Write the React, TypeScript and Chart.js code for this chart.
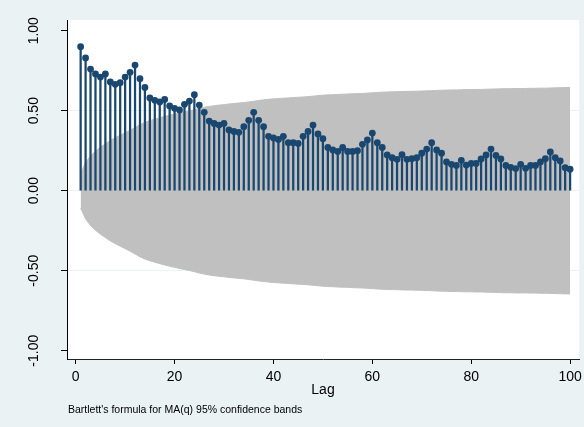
import React, { useEffect, useRef } from "react";
import { Chart, registerables } from "chart.js";

Chart.register(...registerables);

// Autocorrelations by lag
const acf: number[] = [
  0.90, 0.83, 0.76, 0.73, 0.71, 0.73, 0.68, 0.665, 0.675, 0.71,
  0.74, 0.785, 0.70, 0.645, 0.58, 0.565, 0.555, 0.57, 0.53, 0.515,
  0.505, 0.54, 0.56, 0.60, 0.535, 0.49, 0.435, 0.42, 0.41, 0.42,
  0.38, 0.37, 0.365, 0.40, 0.44, 0.49, 0.44, 0.40, 0.34, 0.33,
  0.32, 0.34, 0.30, 0.30, 0.295, 0.34, 0.37, 0.41, 0.355, 0.325,
  0.27, 0.255, 0.245, 0.27, 0.245, 0.245, 0.25, 0.29, 0.317, 0.36,
  0.30, 0.27, 0.223, 0.206, 0.196, 0.225, 0.196, 0.20, 0.206, 0.234,
  0.26, 0.30, 0.255, 0.234, 0.18, 0.165, 0.158, 0.19, 0.16, 0.17,
  0.17, 0.198, 0.223, 0.26, 0.22, 0.198, 0.158, 0.146, 0.138, 0.165,
  0.14, 0.158, 0.158, 0.18, 0.20, 0.242, 0.206, 0.186, 0.144, 0.134,
];

// Half-width of the 95% confidence band by lag
const band: number[] = [
  0.109, 0.176, 0.218, 0.247, 0.272, 0.293, 0.314, 0.331, 0.347, 0.362,
  0.378, 0.395, 0.413, 0.427, 0.438, 0.447, 0.456, 0.464, 0.472, 0.479,
  0.486, 0.492, 0.499, 0.506, 0.515, 0.521, 0.527, 0.531, 0.535, 0.538,
  0.542, 0.545, 0.548, 0.551, 0.555, 0.559, 0.564, 0.568, 0.571, 0.574,
  0.576, 0.578, 0.580, 0.582, 0.584, 0.586, 0.588, 0.591, 0.594, 0.597,
  0.599, 0.600, 0.602, 0.603, 0.604, 0.606, 0.607, 0.608, 0.610, 0.612,
  0.614, 0.616, 0.617, 0.618, 0.619, 0.620, 0.621, 0.621, 0.622, 0.623,
  0.624, 0.625, 0.627, 0.628, 0.629, 0.630, 0.630, 0.631, 0.632, 0.632,
  0.633, 0.633, 0.634, 0.635, 0.636, 0.637, 0.638, 0.638, 0.639, 0.639,
  0.639, 0.640, 0.640, 0.641, 0.641, 0.642, 0.643, 0.644, 0.645, 0.645,
];

const lags: number[] = acf.map((_, i) => i + 1);

const xTicks: number[] = [0, 20, 40, 60, 80, 100];
const yTicks: number[] = [-1, -0.5, 0, 0.5, 1];
const xTitle = "Lag";
const note = "Bartlett's formula for MA(q) 95% confidence bands";

const NAVY = "#1A476F";
const BG = "#EAF2F3";
const FONT = "'Liberation Sans', Arial, sans-serif";

const decorPlugin = {
  id: "decor",
  beforeDraw(chart: any) {
    const { ctx, chartArea: a } = chart;
    ctx.save();
    ctx.fillStyle = BG;
    ctx.fillRect(0, 0, chart.width, chart.height);
    ctx.fillStyle = "#FFFFFF";
    ctx.fillRect(a.left, a.top, a.right - a.left, a.bottom - a.top);
    ctx.restore();
  },
  afterDraw(chart: any) {
    const { ctx, chartArea: a } = chart;
    const xs = chart.scales.x;
    const ys = chart.scales.y;
    ctx.save();
    ctx.fillStyle = "#000";
    // y tick labels (rotated)
    ctx.font = `14px ${FONT}`;
    ctx.textAlign = "center";
    ctx.textBaseline = "alphabetic";
    yTicks.forEach((v) => {
      const py = ys.getPixelForValue(v);
      ctx.save();
      ctx.translate(37.5, py);
      ctx.rotate(-Math.PI / 2);
      ctx.fillText(v.toFixed(2), 0, 0);
      ctx.restore();
    });
    // x tick labels
    xTicks.forEach((v) => {
      ctx.fillText(String(v), xs.getPixelForValue(v), 381);
    });
    // x title
    ctx.font = `14px ${FONT}`;
    ctx.fillText(xTitle, (a.left + a.right) / 2, 394);
    // note
    ctx.font = `10.5px ${FONT}`;
    ctx.textAlign = "left";
    ctx.fillText(note, 68, 413);
    ctx.restore();
  },
};

export default function App() {
  const ref = useRef<HTMLCanvasElement | null>(null);

  useEffect(() => {
    if (!ref.current) return;
    const chart = new Chart(ref.current, {
      type: "scatter",
      data: {
        datasets: [
          {
            type: "scatter",
            data: lags.map((l, i) => ({ x: l, y: acf[i] })),
            backgroundColor: NAVY,
            borderWidth: 0,
            pointRadius: 3.4,
            pointHoverRadius: 3.4,
            order: 0,
          } as any,
          {
            type: "bar",
            data: lags.map((l, i) => ({ x: l, y: acf[i] })),
            backgroundColor: NAVY,
            borderWidth: 0,
            barThickness: 1.6,
            order: 1,
          } as any,
          {
            type: "line",
            data: lags.map((l, i) => ({ x: l, y: band[i] })),
            borderColor: "#C0C0C0",
            borderWidth: 1,
            backgroundColor: "#C0C0C0",
            pointRadius: 0,
            fill: "+1",
            tension: 0,
            order: 2,
          } as any,
          {
            type: "line",
            data: lags.map((l, i) => ({ x: l, y: -band[i] })),
            borderColor: "#C0C0C0",
            borderWidth: 1,
            backgroundColor: "#C0C0C0",
            pointRadius: 0,
            fill: false,
            tension: 0,
            order: 3,
          } as any,
        ],
      },
      options: {
        animation: false,
        responsive: false,
        devicePixelRatio: 1,
        layout: { padding: { left: 0, top: 20, right: 5, bottom: 0 } },
        plugins: {
          legend: { display: false },
          tooltip: { enabled: false },
        },
        events: [],
        scales: {
          x: {
            type: "linear",
            min: -1.76,
            max: 101.8,
            offset: false,
            afterBuildTicks: (s: any) => {
              s.ticks = xTicks.map((v) => ({ value: v }));
            },
            afterFit: (s: any) => {
              s.height = 68;
            },
            ticks: { display: false },
            grid: {
              drawOnChartArea: false,
              drawTicks: true,
              tickLength: 5,
              tickColor: "#000",
              offset: false,
            },
            border: { display: true, color: "#222", width: 1 },
          },
          y: {
            type: "linear",
            min: -1.052,
            max: 1.067,
            afterBuildTicks: (s: any) => {
              s.ticks = yTicks.map((v) => ({ value: v }));
            },
            afterFit: (s: any) => {
              s.width = 67;
            },
            ticks: { display: false },
            grid: {
              drawOnChartArea: true,
              drawTicks: true,
              tickLength: 6,
              tickColor: "#000",
              color: (c: any) =>
                c.tick && Math.abs(c.tick.value) === 1 ? "rgba(0,0,0,0)" : BG,
              lineWidth: 1,
            },
            border: { display: true, color: "#000", width: 1 },
          },
        },
      },
      plugins: [decorPlugin],
    } as any);
    return () => chart.destroy();
  }, []);

  return (
    <div style={{ position: "fixed", left: 0, top: 0, width: 584, height: 427 }}>
      <canvas ref={ref} width={584} height={427} />
    </div>
  );
}
